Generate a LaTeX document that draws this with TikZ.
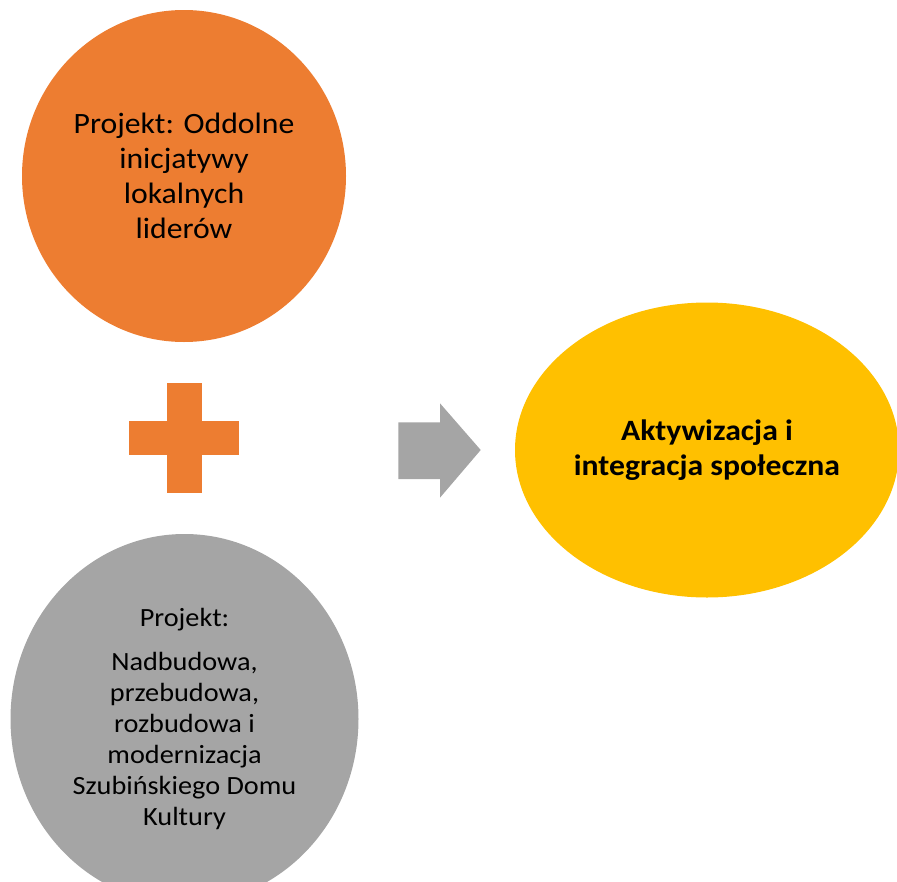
\documentclass[tikz,border=0pt]{standalone}
\usepackage{fontspec}
\setmainfont{Carlito}[FakeStretch=1.075]
\usepackage{tikz}
\usetikzlibrary{calc,shapes.geometric}
\definecolor{accentorange}{RGB}{ 237, 125, 49 }
\definecolor{accentgray}{RGB}{ 165, 165, 165 }
\definecolor{accentgold}{RGB}{ 255, 192, 0 }

\begin{document}
\begin{tikzpicture}[x=1pt,y=-1pt]
\tikzstyle{bubble}=[ellipse,inner sep=0,align=center,text=black]
\tikzstyle{big text}=[font=\fontsize{29.5}{35}\selectfont]
\tikzstyle{bold text}=[font=\fontsize{29.5}{35}\selectfont\bfseries]
\tikzstyle{small text}=[font=\fontsize{26.3}{31}\selectfont]

\useasboundingbox (0,0) rectangle (897,881);
\clip (0,0) rectangle (897,881);

% first project
\node(lead)[bubble,big text,fill=accentorange,
            minimum width=324pt,minimum height=332pt] at (184,176)
    {Projekt: Oddolne\\inicjatywy\\lokalnych\\liderów};

% plus sign
\coordinate(plus) at (184.3,438);
\fill[accentorange] ($(plus)+(-17.5,-55)$) rectangle ($(plus)+(17.5,55)$);
\fill[accentorange] ($(plus)+(-55,-17.3)$) rectangle ($(plus)+(55,17.3)$);

% second project
\node(base)[bubble,small text,fill=accentgray,
            minimum width=348pt,minimum height=370pt] at (184.5,719)
    {Projekt:\\[13pt]Nadbudowa,\\przebudowa,\\rozbudowa i\\modernizacja\\Szubińskiego Domu\\Kultury};

% block arrow
\coordinate(tip) at (480.7,450);
\fill[accentgray] ($(tip)+(-82.4,-27.7)$) -- ($(tip)+(-40.7,-27.7)$)
    -- ($(tip)+(-40.7,-46.7)$) -- (tip) -- ($(tip)+(-40.7,47.7)$)
    -- ($(tip)+(-40.7,29)$) -- ($(tip)+(-82.4,29)$) -- cycle;

% outcome
\node(goal)[bubble,bold text,fill=accentgold,
            minimum width=384pt,minimum height=295pt] at (707,450)
    {Aktywizacja i\\integracja społeczna};

\end{tikzpicture}
\end{document}
